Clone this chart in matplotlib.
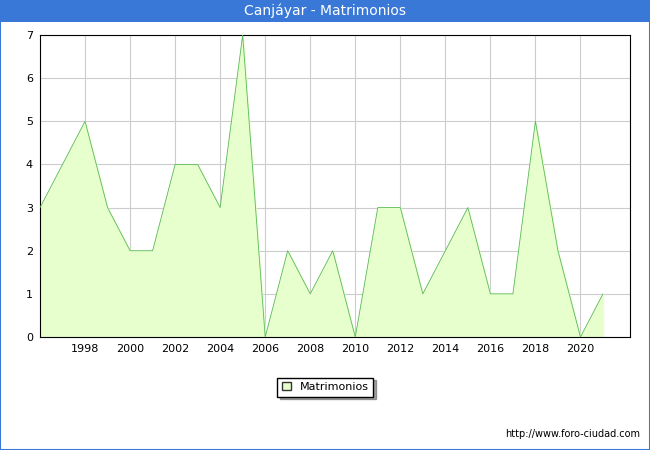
import matplotlib.pyplot as plt
from matplotlib.patches import Rectangle

years = list(range(1996, 2022))
values = [3, 4, 5, 3, 2, 2, 4, 4, 3, 7, 0, 2, 1, 2, 0, 3, 3, 1, 2, 3, 1, 1, 5, 2, 0, 1]
xticks = list(range(1998, 2021, 2))

fig = plt.figure(figsize=(6.5, 4.5), dpi=100)
fig.patch.set_facecolor("white")

# title bar
fig.patches.append(Rectangle((0, 428 / 450), 1, 22 / 450, transform=fig.transFigure,
                             facecolor="#3a78d8", edgecolor="none"))
fig.text(0.5, 439 / 450, "Canjáyar - Matrimonios", color="white", ha="center",
         va="center", fontsize=10)
fig.patches.append(Rectangle((0, 0), 1, 1, transform=fig.transFigure, fill=False,
                             edgecolor="#3a78d8", linewidth=1.5))

ax = fig.add_axes([40 / 650, 113 / 450, 590 / 650, 302 / 450])
ax.fill_between(years, values, color="#e6ffcc", zorder=2)
ax.plot(years, values, color="#5cb85c", linewidth=0.6, zorder=3)
ax.set_xlim(1996, 2022.2)
ax.set_ylim(0, 7)
ax.set_xticks(xticks)
ax.set_yticks(range(8))
ax.grid(True, color="#cccccc", linewidth=0.8, zorder=0)
ax.tick_params(labelsize=8, length=0, pad=5)
for s in ax.spines.values():
    s.set_color("black")
    s.set_linewidth(0.8)

leg = fig.legend([Rectangle((0, 0), 1, 1, facecolor="#e6ffcc", edgecolor="#333333")],
                 ["Matrimonios"], loc="center", bbox_to_anchor=(325 / 650, 63 / 450),
                 fontsize=8, frameon=True, fancybox=False, shadow=True,
                 handlelength=0.8, handleheight=0.8)
leg.get_frame().set_edgecolor("black")

fig.text(640 / 650, 16 / 450, "http://www.foro-ciudad.com", ha="right", va="center",
         fontsize=7)

fig.savefig("out.png", dpi=100)
